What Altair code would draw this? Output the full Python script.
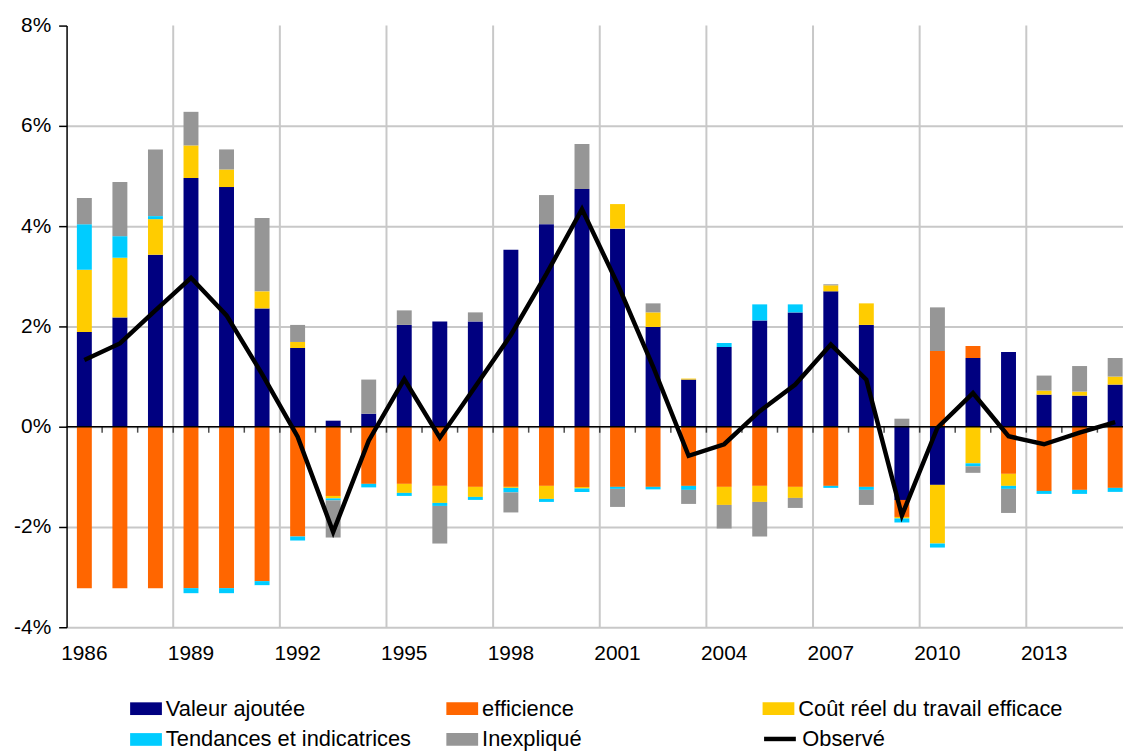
import altair as alt
import pandas as pd

years = list(range(1986, 2016))

valeur_ajoutee = [1.89, 2.18, 3.43, 4.96, 4.78, 2.36, 1.57, 0.12, 0.26, 2.03,
                  2.10, 2.10, 3.53, 4.04, 4.74, 3.95, 1.99, 0.94, 1.59, 2.12,
                  2.28, 2.70, 2.03, -1.46, -1.16, 1.37, 1.49, 0.64, 0.62, 0.84]
efficience = [-3.22, -3.22, -3.22, -3.22, -3.22, -3.08, -2.19, -1.38, -1.14, -1.14,
              -1.18, -1.20, -1.20, -1.18, -1.20, -1.20, -1.20, -1.18, -1.20, -1.18,
              -1.20, -1.18, -1.20, -0.34, 1.51, 0.24, -0.94, -1.28, -1.26, -1.22]
cout_travail = [1.24, 1.19, 0.71, 0.65, 0.35, 0.34, 0.12, -0.05, 0.0, -0.18,
                -0.34, -0.20, -0.02, -0.26, -0.03, 0.49, 0.29, 0.02, -0.36, -0.32,
                -0.22, 0.12, 0.43, -0.03, -1.17, -0.73, -0.24, 0.08, 0.08, 0.16]
tendances = [0.91, 0.43, 0.06, -0.10, -0.10, -0.08, -0.08, -0.04, -0.07, -0.06,
             -0.06, -0.06, -0.09, -0.06, -0.07, -0.04, -0.05, -0.08, 0.08, 0.32,
             0.16, -0.04, -0.06, -0.08, -0.08, -0.06, -0.06, -0.06, -0.08, -0.08]
inexplique = [0.52, 1.08, 1.33, 0.67, 0.40, 1.46, 0.34, -0.74, 0.68, 0.29,
              -0.75, 0.18, -0.40, 0.58, 0.90, -0.36, 0.18, -0.28, -0.47, -0.69,
              -0.20, 0.02, -0.30, 0.16, 0.87, -0.13, -0.48, 0.30, 0.51, 0.37]
observe = [1.33, 1.66, 2.32, 2.97, 2.22, 1.05, -0.20, -2.10, -0.28, 0.95,
           -0.22, 0.80, 1.83, 3.05, 4.34, 2.85, 1.20, -0.58, -0.35, 0.31,
           0.84, 1.64, 0.94, -1.77, -0.02, 0.67, -0.19, -0.35, -0.12, 0.09]

series_names = ["Valeur ajoutée", "efficience", "Coût réel du travail efficace",
                "Tendances et indicatrices", "Inexpliqué"]
series_colors = ["#000080", "#FF6600", "#FFCC00", "#00CCFF", "#969696"]
label_years = [1986, 1989, 1992, 1995, 1998, 2001, 2004, 2007, 2010, 2013]
grid_years = [1989, 1992, 1995, 1998, 2001, 2004, 2007, 2010, 2013]
tick_years = years[1:]
y_ticks = [-4, -2, 0, 2, 4, 6, 8]

FONT = "Liberation Sans"
FS = 21
LFS = 22

rows = []
for i, (name, vals) in enumerate(zip(series_names,
                                     [valeur_ajoutee, efficience, cout_travail, tendances, inexplique])):
    for yr, v in zip(years, vals):
        if v != 0:
            rows.append({"year": yr, "serie": name, "value": v, "ord": i})
bars_df = pd.DataFrame(rows)
line_df = pd.DataFrame({"year": years, "value": observe, "serie": "Observé"})

x_scale = alt.Scale(domain=years, range=[0, 1074], paddingInner=0, paddingOuter=0)
y_scale = alt.Scale(domain=[-4, 8], nice=False)

grid = alt.Chart(pd.DataFrame({"year": grid_years})).mark_rule(
    color="#c8c8c8", strokeWidth=2
).encode(x=alt.X("year:O", bandPosition=0, scale=x_scale,
                 axis=alt.Axis(title=None, values=label_years, labelAngle=0, domain=False,
                               ticks=False, grid=False, labelFont=FONT, labelFontSize=FS,
                               labelColor="black", labelPadding=15)))

bars = alt.Chart(bars_df).mark_bar(width={"band": 0.42}).encode(
    x=alt.X("year:O", scale=x_scale),
    y=alt.Y("value:Q", stack="zero", scale=y_scale,
            axis=alt.Axis(title=None, values=y_ticks, labelExpr="datum.value + '%'",
                          tickSize=8, tickColor="black", tickWidth=1.5,
                          domainColor="black", domainWidth=1.5,
                          gridColor="#c8c8c8", gridWidth=2,
                          gridOpacity={"condition": {"test": "datum.value >= 8", "value": 0}, "value": 1},
                          labelPadding=8, labelFont=FONT, labelFontSize=FS, labelColor="black")),
    color=alt.Color("serie:N", scale=alt.Scale(domain=series_names, range=series_colors),
                    legend=alt.Legend(title=None, orient="none", legendX=64, legendY=672,
                                      direction="horizontal", columns=3, gridAlign="all",
                                      columnPadding=15.5, rowPadding=4,
                                      symbolType="M-1,-0.4H1V0.4H-1Z", symbolSize=1024,
                                      symbolStrokeWidth=0, symbolOpacity=1, labelOffset=4,
                                      labelFont=FONT, labelFontSize=LFS, labelColor="black",
                                      labelLimit=400)),
    order=alt.Order("ord:Q", sort="ascending"),
)

zero = alt.Chart(pd.DataFrame({"value": [0]})).mark_rule(color="black", strokeWidth=1.5).encode(
    y=alt.Y("value:Q", scale=y_scale)
)

ticks = alt.Chart(pd.DataFrame({"year": tick_years})).mark_tick(
    orient="vertical", size=6, thickness=1.5, yOffset=3, color="black"
).encode(
    x=alt.X("year:O", bandPosition=0, scale=x_scale),
    y=alt.datum(0),
)

line = alt.Chart(line_df).mark_line(strokeWidth=4.5).encode(
    x=alt.X("year:O", scale=x_scale),
    y=alt.Y("value:Q", scale=y_scale),
    stroke=alt.Stroke("serie:N", scale=alt.Scale(domain=["Observé"], range=["black"]),
                      legend=alt.Legend(title=None, orient="none", legendX=700, legendY=700,
                                        symbolType="stroke", symbolSize=1024, symbolStrokeWidth=4.5,
                                        labelOffset=4, labelFont=FONT, labelFontSize=LFS,
                                        labelColor="black")),
)

chart = alt.layer(grid, bars, zero, ticks, line).properties(
    width=1064, height=606,
    autosize=alt.AutoSizeParams(type="none"),
    padding={"left": 59, "top": 15, "right": 0, "bottom": 135},
    background="white",
).configure_view(stroke=None)

chart.save("out.html", embed_options={"renderer": "svg", "actions": False})
